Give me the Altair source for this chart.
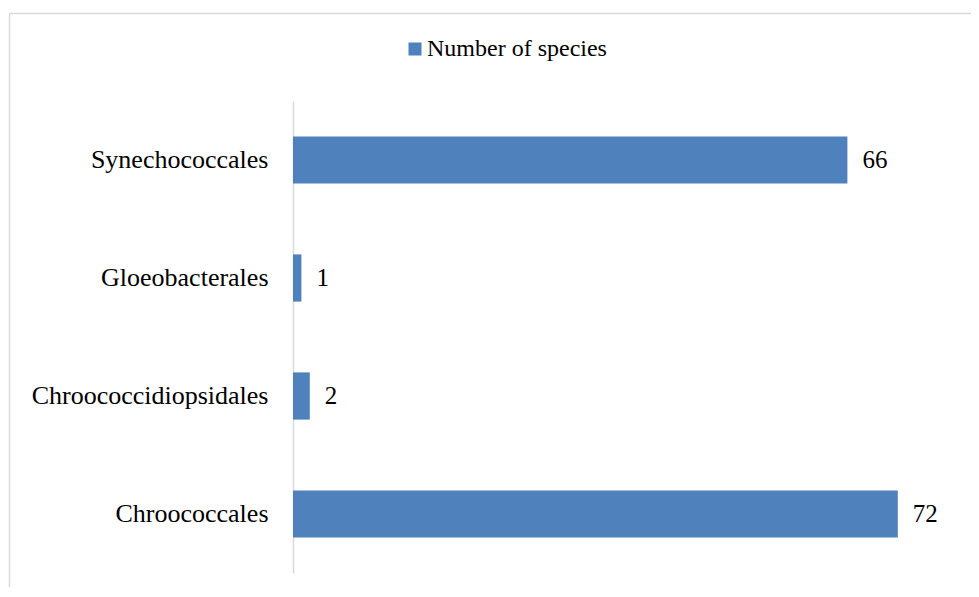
import altair as alt
import pandas as pd

categories = ["Synechococcales", "Gloeobacterales", "Chroococcidiopsidales", "Chroococcales"]
values = [66, 1, 2, 72]
series_name = "Number of species"

df = pd.DataFrame({"order": categories, "count": values, "series": [series_name] * len(categories)})
one = pd.DataFrame({"a": [0]})

FONT = "Liberation Serif"
BLUE = "#4f81bd"
GRID = "#d9d9d9"

y_enc = alt.Y("order:N", sort=categories,
              scale=alt.Scale(paddingInner=0.6, paddingOuter=0.3),
              axis=alt.Axis(title=None, ticks=False, labelPadding=25, labelFontSize=26,
                            labelFont=FONT, labelColor="#000000", domainColor=GRID,
                            domainWidth=1.5, grid=False, labelLimit=0))
x_enc = alt.X("count:Q", scale=alt.Scale(domain=[0, 80], nice=False), axis=None)

bars = alt.Chart(df).mark_bar(color=BLUE).encode(
    y=y_enc, x=x_enc,
    color=alt.Color("series:N", scale=alt.Scale(range=[BLUE]),
                    legend=alt.Legend(title=None, orient="none", legendX=110, legendY=-64,
                                      symbolType="square", symbolSize=169, symbolStrokeWidth=0,
                                      labelFont=FONT, labelFontSize=24, labelColor="#000000",
                                      labelOffset=0, padding=0, labelLimit=0)),
)

labels = alt.Chart(df).mark_text(align="left", baseline="middle", dx=15, fontSize=25,
                                 font=FONT, color="#000000").encode(
    y=alt.Y("order:N", sort=categories), x="count:Q", text="count:Q")

border_left = alt.Chart(one).mark_rule(color=GRID, strokeWidth=1.5).encode(
    x=alt.value(-283.5), y=alt.value(-87.5), y2=alt.value(500))
border_top = alt.Chart(one).mark_rule(color=GRID, strokeWidth=1.5).encode(
    x=alt.value(-283.5), x2=alt.value(680), y=alt.value(-87.5))

chart = alt.layer(border_left, border_top, bars, labels).properties(
    width=672, height=472,
    autosize=alt.AutoSizeParams(type="none"),
    padding={"left": 285, "top": 93, "right": 6, "bottom": 14},
).configure_view(stroke=None)

chart.save("out.html", embed_options={"renderer": "svg", "actions": False})
